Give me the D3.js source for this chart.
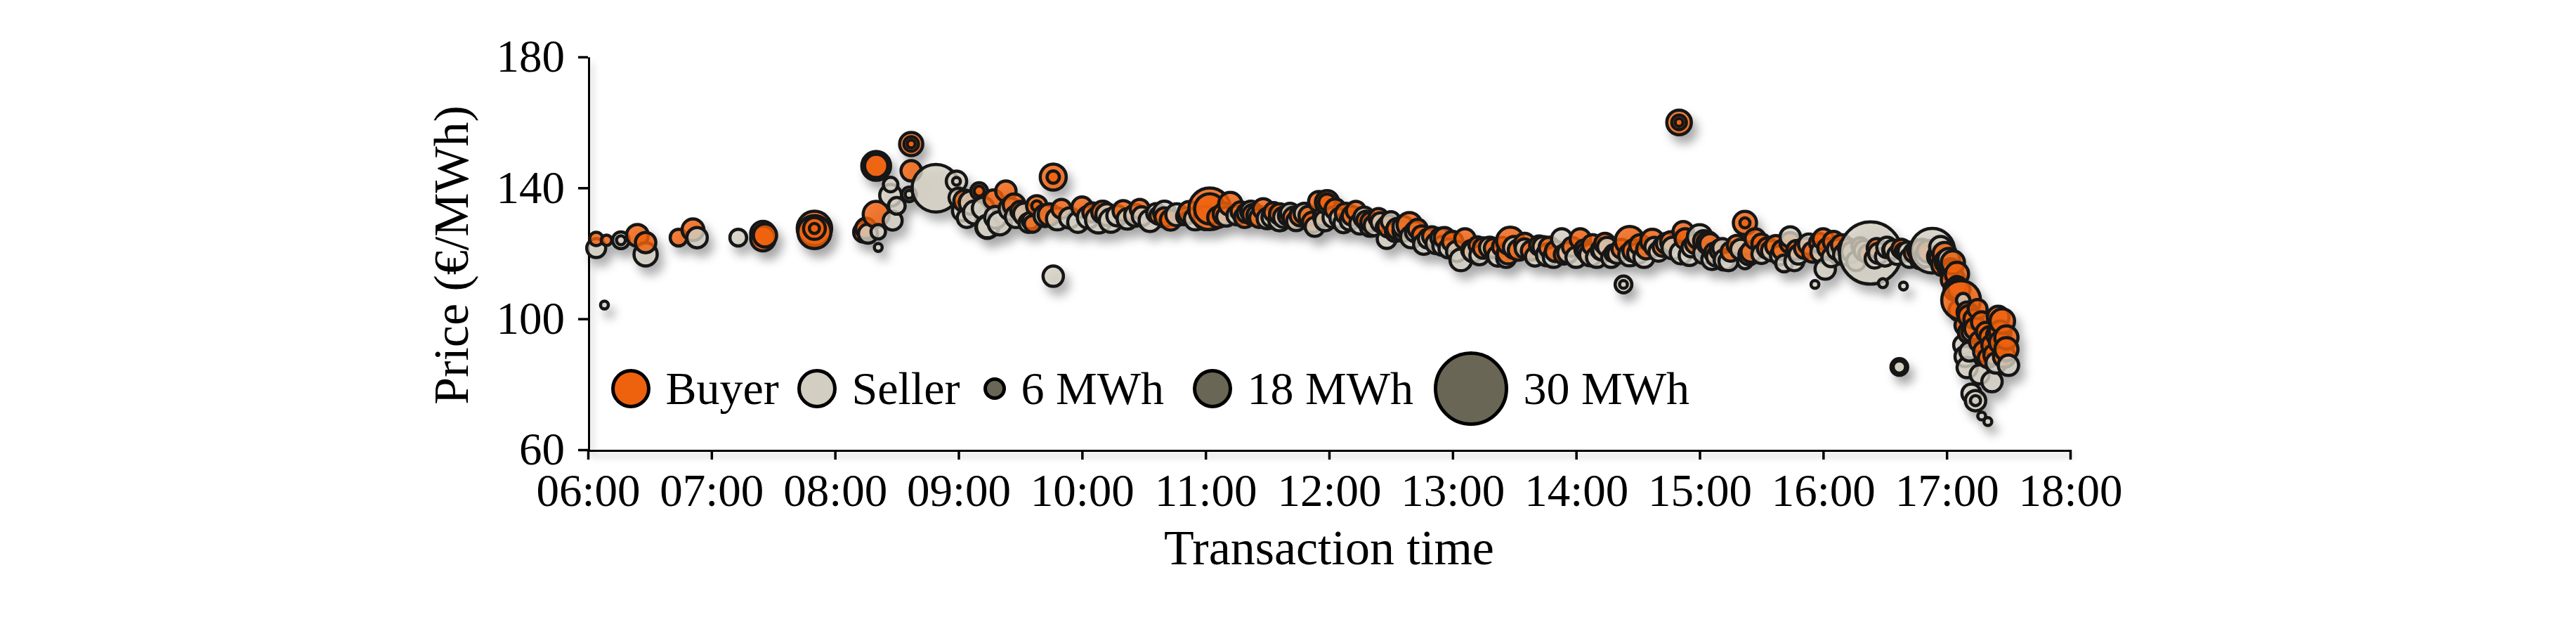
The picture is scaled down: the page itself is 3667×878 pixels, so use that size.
<!DOCTYPE html>
<html>
<head>
<meta charset="utf-8">
<script src="https://cdn.jsdelivr.net/npm/d3@7"></script>
<style>
    body { margin: 0; background: #fff; }
    text { font-family: "Liberation Serif", "Times New Roman", serif; fill: #000; }
</style>
</head>
<body>
<svg id="chart"></svg>
<script>
// buyer side trades: time, price (EUR/MWh), volume (MWh)
const buyerTimes = ["06:04","06:09","06:24","06:28","06:44","06:51","07:25","07:25","07:26","07:50","07:50","07:50","07:50",
    "08:15","08:14","08:20","08:20","08:20","08:37","08:37","08:37","08:37","09:10","09:10","09:23","09:38","09:38","09:36",
    "09:46","09:46","09:50","10:00","10:28","10:37","10:43","11:02","11:02","11:12","11:28","11:40","11:46","11:50","11:55",
    "11:59","11:59","12:13","12:18","12:39","12:45","13:06","13:12","13:15","13:27","13:28","13:38","14:02","14:12","14:18",
    "14:26","14:37","14:50","14:50","14:50","14:52","14:53","15:05","15:15","15:22","15:22","15:27","15:37","15:51","16:00",
    "16:33","16:58","17:05","17:07","17:11","17:11","17:14","17:16","17:18","17:20","17:22","17:24","17:27","17:29","17:29",
    "09:17","09:30","10:05","10:25","10:40","11:06",
    "11:17","11:23","11:33","11:43","11:57","12:08","12:20","12:33","12:50","13:00","13:20","13:32","13:42","13:50","13:58",
    "14:08","14:22","14:31","14:42","14:58","15:10","15:18","15:33","15:47","15:58","16:05","16:12","16:18","16:26","16:44",
    "16:48","16:56","17:00","17:02",
    "16:57","17:01","17:03","17:04","17:06","17:09","17:13","17:15","17:19","17:25","17:26","17:28","17:23",
    "09:03","09:27","09:44","10:10","10:20","10:52","11:09","11:19","11:26","11:36","11:52","12:03","12:11","12:24","12:29",
    "12:36","12:43","12:56","13:09","13:24","13:35","13:47","13:54","14:05","14:14","14:28","14:34","14:46","15:02","15:07",
    "15:25","15:30","15:40","15:44","15:55","16:02","16:09","16:22","16:38","16:51","16:59","17:03","17:06","17:10","17:17",
    "17:21","17:26"];
const buyerPrices = [124.4,124,125.5,123.3,124.8,127.2,126,124.5,125.5,127.6,127.6,127.6,126.5,
    127.6,126.5,131.9,146.7,146.7,153.4,153.4,153.4,145.2,139,139,139,134.5,134.5,129,
    143.3,143.3,133.6,134.1,133.6,131.5,130.2,133.6,133.6,135.1,133.6,131.5,131.5,131.5,135.8,
    135.6,135.6,133,130,128.7,125.5,124.4,122.5,121.6,120.1,123.8,120.8,124.4,121,120,
    123.8,123.8,160,160,160,126.6,124.4,122.9,120.5,129.3,129.3,124.4,122.3,121.6,124.4,
    121,116.5,113.7,105.7,100.8,95.8,97,93,90,88,92,95,99.3,94.3,90.7,
    136.5,133,132.5,132,131,131,
    132.8,131.8,132.6,130.8,131.2,132.2,129.6,127.5,125.2,123.6,121.6,121,122.4,120.6,122,
    122.6,121.4,122.6,122,123,121,122.6,121.6,121,123.2,123.6,121.6,122.2,121.6,120.2,
    121.2,119,117.5,115,
    118.5,116,112,109,102.5,98,100,103,96,100.5,96,88.5,89,
    136,134.8,131.8,132.6,133,132.5,132,131,130.8,132,129.5,133.5,131.5,130.8,128.3,
    126.8,127.5,124.8,121,122,123,121.8,119.6,120.4,123,120.8,121.2,123.5,123.8,120.2,
    120.4,123,121,123.2,120.4,121.6,122.6,119.8,121.4,120.6,119.8,117.2,109,102,99,
    94.5,92.8];
const buyerVolumes = [3.5,2.2,8,7,5,8,10,10,9,17,8,2,16,
    7,7,11,13,9,9,4,1,7,5,2,7,7,2,5,
    11,3,6,7,6,5,7,20,14,9,7,6,7,6,7,
    9,5,6,6,10,6,7,5,7,8,12,6,7,6,5,
    13,9,10,4,1,7,7,7,6,9,2,7,7,7,7,
    5,8,9,19,8,8,8,7,7,6,7,6,10,9,9,
    6,6,6,5,6,7,
    6,7,6,8,6,7,6,7,6,7,6,7,6,7,6,
    7,6,7,6,7,7,6,7,6,6,7,6,5,6,6,
    7,8,9,8,
    8,8,9,8,7,7,6,6,6,8,8,8,7,
    8,8,8,8,7,8,8,7,6,7,7,7,6,6,8,
    7,6,7,6,6,7,7,6,6,7,8,6,7,7,6,
    7,6,6,7,7,6,7,6,6,8,9,9,8,7,7,
    7,8];

// seller side trades
const sellerTimes = ["06:04","06:16","06:16","06:08","06:28","06:53","07:13","08:16","08:21","08:21","08:27","08:27","08:28",
    "08:30","08:36","08:36","08:49","08:59","08:59","09:00","09:02","09:04","09:14","09:14","09:25","09:34","09:35","09:46",
    "09:54","10:08","10:17","10:29","10:36","10:50","10:50","11:20","11:25","11:32","11:36","11:53","12:05","12:15","12:22",
    "12:25","12:27","12:28","12:42","12:48","12:52","12:55","13:04","13:35","13:46","13:53","14:07","14:15","14:23","14:23",
    "14:26","14:47","14:51","15:00","15:02","15:08","15:12","15:22","15:41","15:44","15:56","16:01","16:07","16:23","16:27",
    "16:29","16:30","16:36","16:37","16:37","16:39","16:39","16:53","17:08","17:10","17:12","17:14","17:14","17:17","17:20",
    "17:22","17:30",
    "09:06","09:18","09:28","09:42","09:58","10:12","10:22","10:33","10:46","10:55",
    "11:15","11:22","11:38","11:44","11:48","12:02","12:10","12:20","12:32","12:36","12:58","13:10","13:22","13:30","13:40",
    "13:56","14:04","14:10","14:20","14:30","14:40","14:44","14:56","15:04","15:14","15:20","15:30","15:35","15:48","15:53",
    "16:04","16:10","16:16","16:20","16:34","16:42","16:46","16:50","16:57",
    "17:08","17:09","17:12","17:05","17:02",
    "09:08","09:12","09:20","09:32","09:48","10:03","10:14","10:26","10:40","11:00","11:10","11:30","11:41","11:58","12:07",
    "12:17","12:30","12:40","12:46","12:54","13:02","13:13","13:18","13:26","13:44","13:49","14:00","14:13","14:17","14:33",
    "14:38","14:55","15:06","15:11","15:24","15:39","15:46","15:59","16:14","16:25","16:31","16:41","16:47","17:01","17:11",
    "17:16","17:24"];
const sellerPrices = [121.6,124,124,104.2,119.7,124.8,124.8,126,121.8,126.6,141,137.7,130,
    134.5,138,138,139.9,142,142,137,133,130.8,128.1,128.1,133.6,129.3,130,113,
    130.8,130.2,131.5,131.3,132.3,131.3,131.3,132.3,131.5,131,130.2,128.1,130.8,129,128.5,
    129.5,128,124.4,126.6,124.5,123,122.3,118,121.5,119.5,124.4,119.5,122,110.5,110.5,
    119.5,121.6,120.1,125,120,119,118,117.5,116.9,125,110.5,115.2,121.2,120.1,120,
    110.9,119,119.5,85.3,85.3,110,120.5,120.8,105.7,85.1,77.2,75,75,70.3,68.6,
    80.8,85.8,
    135.5,131,131.2,131.5,129.5,131.8,130.5,130,131.8,130.5,
    131.6,132.8,131,129.8,132.2,131,130,128.3,126.5,128.2,121.5,120.5,119.2,121.8,119,
    120.2,121.2,118.8,119.8,120,120.5,123,121.8,123.2,117.6,121.2,119.8,120.8,119.6,122.8,
    118.8,119.6,117.6,120.8,121.2,118.6,121,119.2,121.8,
    92,88.5,96,110,114.5,
    132.5,133.8,129.2,132,130.5,131,130,131.6,132.6,130.8,131.2,130.6,132.4,130,129.2,
    131,129.8,125,122.8,124.8,120.6,119.4,121.8,118.6,122,118.8,118.8,121,118.6,118.8,
    122,119.4,118.2,121.6,119.6,119.4,117.6,120.4,120.4,118.4,121.8,120.6,118.2,118.2,90,
    83,86.5];
const sellerVolumes = [6,5,1.5,1,9,7,5,6,1,4,4,8,6,
    5,4,1,22,7,1,6,7,6,9,8,8,6,5,7,
    7,11,7,6,6,5,1,6,7,6,8,6,6,7,7,
    6,5,6,7,6,7,6,8,6,8,7,8,6,5,1,
    8,8,8,10,7,6,7,4,5,7,1,7,7,27,7,
    1.5,6,6,5,3,1,5,21,3.5,7,6,7,2,1,1,
    7,7,
    9,8,8,8,7,8,7,8,8,8,
    6,7,7,6,7,7,6,7,6,7,6,7,7,8,6,
    7,6,7,6,7,6,7,6,8,6,7,6,7,6,7,
    6,7,6,7,6,6,7,8,8,
    6,7,6,6,6,
    9,8,9,8,8,8,9,8,8,9,6,7,6,7,6,
    7,6,8,7,6,7,6,7,6,7,7,7,7,6,7,
    6,7,7,6,7,6,6,7,7,6,7,6,6,8,6,
    6,7];

// axis ticks and legend entries
const yTicks = [60, 100, 140, 180];
const timeRange = ["06:00", "18:00"];
const sideLabels = ["Buyer", "Seller"];
const sizeLegend = [6, 18, 30];

const colors = { Buyer: "#ef620d", Seller: "#d3cec2", size: "#6a6656" };

function drawChart() {
    let width = 3667;
    let height = 878;
    let plot = { left: 837, right: 2947, top: 81, bottom: 640 };

    let svg = d3.select("#chart")
                .attr("width", width)
                .attr("height", height);

    // soft drop shadows for marks and axes (user space, so flat paths keep their region)
    let defs = svg.append("defs");
    defs.append("filter")
            .attr("id", "shadow")
            .attr("filterUnits", "userSpaceOnUse")
            .attr("x", 0).attr("y", 0)
            .attr("width", width).attr("height", height)
        .append("feDropShadow")
            .attr("dx", 7).attr("dy", 11)
            .attr("stdDeviation", 7)
            .attr("flood-color", "#000")
            .attr("flood-opacity", 0.35);
    defs.append("filter")
            .attr("id", "axisShadow")
            .attr("filterUnits", "userSpaceOnUse")
            .attr("x", 0).attr("y", 0)
            .attr("width", width).attr("height", height)
        .append("feDropShadow")
            .attr("dx", 5).attr("dy", 8)
            .attr("stdDeviation", 5)
            .attr("flood-color", "#000")
            .attr("flood-opacity", 0.15);

    let parse = d3.timeParse("%H:%M");

    let xScale = d3.scaleTime()
                    .domain(timeRange.map(parse))
                    .range([plot.left, plot.right]);

    let yScale = d3.scaleLinear()
                    .domain([60, 180])
                    .range([plot.bottom, plot.top]);

    // marker radius by traded volume
    let rScale = d3.scaleLinear()
                    .domain([0, 6, 18, 30])
                    .range([4, 13.5, 25.5, 50.5]);

    // combine both sides into one list of trades
    let trades = [];
    buyerTimes.forEach((t, i) => trades.push({ time: parse(t), price: buyerPrices[i], volume: buyerVolumes[i], side: "Buyer" }));
    sellerTimes.forEach((t, i) => trades.push({ time: parse(t), price: sellerPrices[i], volume: sellerVolumes[i], side: "Seller" }));

    // chronological drawing order, bigger first where trades share a time
    trades.sort((a, b) => (a.time - b.time) || (b.volume - a.volume));

    // axes
    let xAxis = d3.axisBottom(xScale)
                    .ticks(d3.timeHour.every(1))
                    .tickFormat(d3.timeFormat("%H:%M"))
                    .tickSizeInner(14)
                    .tickSizeOuter(0)
                    .tickPadding(20);

    let yAxis = d3.axisLeft(yScale)
                    .tickValues(yTicks)
                    .tickSizeInner(14)
                    .tickSizeOuter(0)
                    .tickPadding(19);

    let gx = svg.append("g")
                .attr("transform", `translate(0,${plot.bottom})`)
                .call(xAxis);

    let gy = svg.append("g")
                .attr("transform", `translate(${plot.left},0)`)
                .call(yAxis);

    [gx, gy].forEach(g => {
        g.select(".domain")
            .attr("stroke", "#000")
            .attr("stroke-width", 5)
            .attr("filter", "url(#axisShadow)");
        g.selectAll(".tick line")
            .attr("stroke", "#000")
            .attr("stroke-width", 3.5);
        g.selectAll(".tick text")
            .attr("font-family", "Liberation Serif")
            .attr("font-size", 65)
            .attr("fill", "#000");
    });

    // axis titles
    svg.append("text")
        .attr("transform", "rotate(-90)")
        .attr("x", -363)
        .attr("y", 666)
        .style("text-anchor", "middle")
        .attr("font-size", 70)
        .text("Price (€/MWh)");

    svg.append("text")
        .attr("x", (plot.left + plot.right) / 2)
        .attr("y", 803)
        .style("text-anchor", "middle")
        .attr("font-size", 70)
        .text("Transaction time");

    // trade markers
    svg.append("g")
            .attr("filter", "url(#shadow)")
        .selectAll("circle")
        .data(trades)
        .enter()
        .append("circle")
            .attr("cx", d => xScale(d.time))
            .attr("cy", d => yScale(d.price))
            .attr("r", d => rScale(d.volume))
            .attr("fill", d => colors[d.side])
            .attr("fill-opacity", 0.82)
            .attr("stroke", "#141414")
            .attr("stroke-width", 4.5);

    // legend: sides then volume sizes
    let legendY = 553;
    let legendItems = [
        { cx: 898,  r: 25.5,             fill: colors.Buyer,  label: sideLabels[0] },
        { cx: 1163, r: 25.5,             fill: colors.Seller, label: sideLabels[1] },
        { cx: 1416, r: rScale(sizeLegend[0]), fill: colors.size, label: `${sizeLegend[0]} MWh` },
        { cx: 1726, r: rScale(sizeLegend[1]), fill: colors.size, label: `${sizeLegend[1]} MWh` },
        { cx: 2094, r: rScale(sizeLegend[2]), fill: colors.size, label: `${sizeLegend[2]} MWh` }
    ];

    let legend = svg.append("g");

    legend.selectAll("circle")
        .data(legendItems)
        .enter()
        .append("circle")
            .attr("cx", d => d.cx)
            .attr("cy", legendY)
            .attr("r", d => d.r)
            .attr("fill", d => d.fill)
            .attr("stroke", "#000")
            .attr("stroke-width", 5);

    legend.selectAll("text")
        .data(legendItems)
        .enter()
        .append("text")
            .attr("x", d => d.cx + d.r + 24)
            .attr("y", legendY + 22)
            .attr("font-size", 66)
            .text(d => d.label);
}

drawChart();
</script>
</body>
</html>
